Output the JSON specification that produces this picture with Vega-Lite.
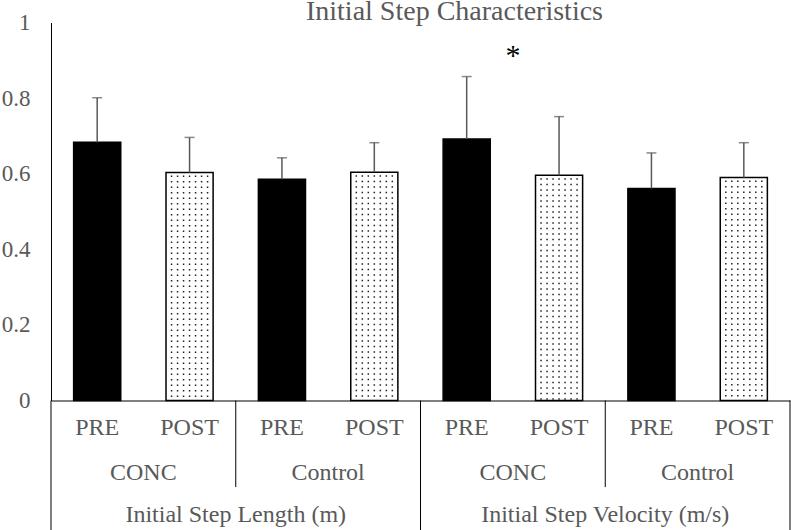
{
  "$schema": "https://vega.github.io/schema/vega-lite/v6.json",
  "width": 739,
  "height": 378,
  "autosize": {"type": "none"},
  "padding": {"left": 51, "top": 22.5, "right": 1, "bottom": 129.5},
  "background": "white",
  "config": {"view": {"stroke": null}, "font": "Liberation Serif", "text": {"font": "Liberation Serif"}},
  "title": {"text": "Initial Step Characteristics", "fontSize": 28, "font": "Liberation Serif", "fontWeight": "normal", "color": "#595959", "anchor": "middle", "frame": "group", "dx": 34, "dy": 38, "offset": 2, "baseline": "alphabetic"},
  "data": {"values": [
    {"key": "Length|CONC|PRE", "measure": "Initial Step Length (m)", "group": "CONC", "time": "PRE", "mean": 0.683, "upper": 0.801},
    {"key": "Length|CONC|POST", "measure": "Initial Step Length (m)", "group": "CONC", "time": "POST", "mean": 0.603, "upper": 0.696},
    {"key": "Length|Control|PRE", "measure": "Initial Step Length (m)", "group": "Control", "time": "PRE", "mean": 0.585, "upper": 0.642},
    {"key": "Length|Control|POST", "measure": "Initial Step Length (m)", "group": "Control", "time": "POST", "mean": 0.604, "upper": 0.682},
    {"key": "Velocity|CONC|PRE", "measure": "Initial Step Velocity (m/s)", "group": "CONC", "time": "PRE", "mean": 0.692, "upper": 0.857},
    {"key": "Velocity|CONC|POST", "measure": "Initial Step Velocity (m/s)", "group": "CONC", "time": "POST", "mean": 0.596, "upper": 0.751},
    {"key": "Velocity|Control|PRE", "measure": "Initial Step Velocity (m/s)", "group": "Control", "time": "PRE", "mean": 0.561, "upper": 0.655},
    {"key": "Velocity|Control|POST", "measure": "Initial Step Velocity (m/s)", "group": "Control", "time": "POST", "mean": 0.590, "upper": 0.682}
  ]},
  "encoding": {
    "x": {"field": "key", "type": "nominal", "title": null,
      "scale": {"domain": ["Length|CONC|PRE", "Length|CONC|POST", "Length|Control|PRE", "Length|Control|POST", "Velocity|CONC|PRE", "Velocity|CONC|POST", "Velocity|Control|PRE", "Velocity|Control|POST"], "paddingInner": 0, "paddingOuter": 0},
      "axis": {"labelExpr": "split(datum.value, '|')[2]", "labelAngle": 0, "ticks": false, "grid": false, "domainColor": "black", "domainWidth": 1, "labelFontSize": 24, "labelColor": "#595959", "labelFont": "Liberation Serif", "labelPadding": 15, "title": null}}
  },
  "layer": [
    {
      "mark": {"type": "bar", "width": {"band": 0.51}, "stroke": "black", "strokeWidth": 1.5},
      "encoding": {
        "y": {"field": "mean", "type": "quantitative", "title": null,
          "scale": {"domain": [0, 1], "nice": false, "zero": true},
          "axis": {"values": [0, 0.2, 0.4, 0.6, 0.8, 1], "format": ".1~f", "ticks": false, "grid": false, "domainColor": "black", "domainWidth": 1, "labelFontSize": 23, "labelColor": "#595959", "labelFont": "Liberation Serif", "labelPadding": 21, "title": null}},
        "fill": {"field": "time", "type": "nominal", "scale": {"domain": ["PRE", "POST"], "range": ["black", "white"]}, "legend": null}
      }
    },
    {"transform": [{"filter": "datum.time == 'POST'"}], "mark": {"type": "rule", "xOffset": -18, "strokeDash": [1.5, 4], "strokeDashOffset": -3, "strokeWidth": 1.5, "color": "#222222"}, "encoding": {"y": {"field": "mean", "type": "quantitative", "title": null}, "y2": {"datum": 0}}},
    {"transform": [{"filter": "datum.time == 'POST'"}], "mark": {"type": "rule", "xOffset": -12, "strokeDash": [1.5, 4], "strokeDashOffset": -3, "strokeWidth": 1.5, "color": "#222222"}, "encoding": {"y": {"field": "mean", "type": "quantitative", "title": null}, "y2": {"datum": 0}}},
    {"transform": [{"filter": "datum.time == 'POST'"}], "mark": {"type": "rule", "xOffset": -6, "strokeDash": [1.5, 4], "strokeDashOffset": -3, "strokeWidth": 1.5, "color": "#222222"}, "encoding": {"y": {"field": "mean", "type": "quantitative", "title": null}, "y2": {"datum": 0}}},
    {"transform": [{"filter": "datum.time == 'POST'"}], "mark": {"type": "rule", "xOffset": 0, "strokeDash": [1.5, 4], "strokeDashOffset": -3, "strokeWidth": 1.5, "color": "#222222"}, "encoding": {"y": {"field": "mean", "type": "quantitative", "title": null}, "y2": {"datum": 0}}},
    {"transform": [{"filter": "datum.time == 'POST'"}], "mark": {"type": "rule", "xOffset": 6, "strokeDash": [1.5, 4], "strokeDashOffset": -3, "strokeWidth": 1.5, "color": "#222222"}, "encoding": {"y": {"field": "mean", "type": "quantitative", "title": null}, "y2": {"datum": 0}}},
    {"transform": [{"filter": "datum.time == 'POST'"}], "mark": {"type": "rule", "xOffset": 12, "strokeDash": [1.5, 4], "strokeDashOffset": -3, "strokeWidth": 1.5, "color": "#222222"}, "encoding": {"y": {"field": "mean", "type": "quantitative", "title": null}, "y2": {"datum": 0}}},
    {"transform": [{"filter": "datum.time == 'POST'"}], "mark": {"type": "rule", "xOffset": 18, "strokeDash": [1.5, 4], "strokeDashOffset": -3, "strokeWidth": 1.5, "color": "#222222"}, "encoding": {"y": {"field": "mean", "type": "quantitative", "title": null}, "y2": {"datum": 0}}},
    {
      "mark": {"type": "rule", "color": "#595959", "strokeWidth": 1.5},
      "encoding": {"y": {"field": "mean", "type": "quantitative", "title": null}, "y2": {"field": "upper"}}
    },
    {
      "mark": {"type": "tick", "color": "#595959", "thickness": 1.5, "size": 10},
      "encoding": {"y": {"field": "upper", "type": "quantitative", "title": null}}
    },
    {
      "transform": [{"filter": "datum.group == 'CONC' && datum.time == 'PRE'"}],
      "mark": {"type": "rule", "color": "black", "strokeWidth": 1},
      "encoding": {
        "x": {"field": "key", "type": "nominal", "bandPosition": 0},
        "y": {"datum": 0}, "y2": {"datum": -0.345}
      }
    },
    {
      "transform": [{"filter": "datum.measure == 'Initial Step Velocity (m/s)' && datum.group == 'Control' && datum.time == 'POST'"}],
      "mark": {"type": "rule", "color": "black", "strokeWidth": 1},
      "encoding": {
        "x": {"field": "key", "type": "nominal", "bandPosition": 1},
        "y": {"datum": 0}, "y2": {"datum": -0.345}
      }
    },
    {
      "transform": [{"filter": "datum.group == 'Control' && datum.time == 'PRE'"}],
      "mark": {"type": "rule", "color": "black", "strokeWidth": 1},
      "encoding": {
        "x": {"field": "key", "type": "nominal", "bandPosition": 0},
        "y": {"datum": 0}, "y2": {"datum": -0.229}
      }
    },
    {
      "transform": [{"filter": "datum.time == 'POST'"}],
      "mark": {"type": "text", "fontSize": 24, "color": "#595959", "baseline": "alphabetic", "align": "center"},
      "encoding": {
        "x": {"field": "key", "type": "nominal", "bandPosition": 0},
        "y": {"datum": -0.21},
        "text": {"field": "group"}
      }
    },
    {
      "transform": [{"filter": "datum.group == 'Control' && datum.time == 'PRE'"}],
      "mark": {"type": "text", "fontSize": 24, "color": "#595959", "baseline": "alphabetic", "align": "center"},
      "encoding": {
        "x": {"field": "key", "type": "nominal", "bandPosition": 0},
        "y": {"datum": -0.321},
        "text": {"field": "measure"}
      }
    },
    {
      "transform": [{"filter": "datum.key == 'Velocity|CONC|POST'"}],
      "mark": {"type": "text", "fontSize": 30, "color": "black", "baseline": "alphabetic", "align": "center"},
      "encoding": {
        "x": {"field": "key", "type": "nominal", "bandPosition": 0},
        "y": {"datum": 0.888},
        "text": {"value": "*"}
      }
    }
  ]
}
